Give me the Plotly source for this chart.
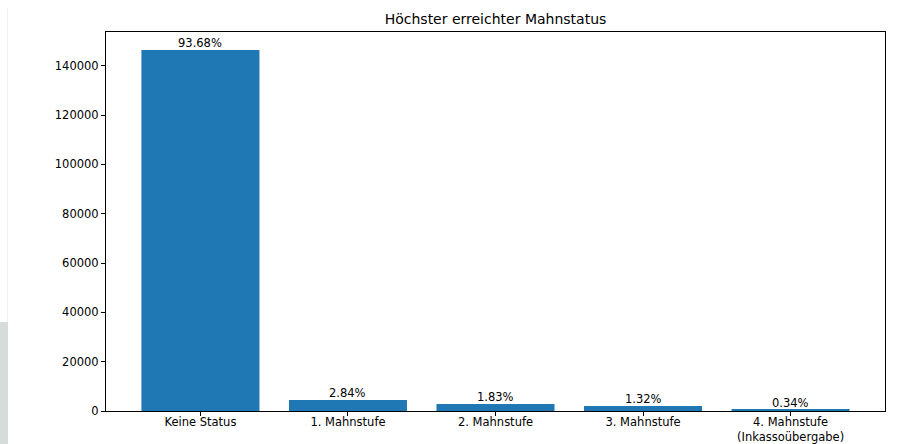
import plotly.graph_objects as go

categories = ["Keine Status", "1. Mahnstufe", "2. Mahnstufe", "3. Mahnstufe", "4. Mahnstufe<br>(Inkassoübergabe)"]
counts = [146343, 4437, 2859, 2062, 531]
pct_labels = ["93.68%", "2.84%", "1.83%", "1.32%", "0.34%"]
y_ticks = [0, 20000, 40000, 60000, 80000, 100000, 120000, 140000]

W, H = 916, 444
L, R, T, B = 106, 885, 32, 411
pw, ph = R - L, B - T

font = dict(family="DejaVu Sans", size=11.5, color="#000000")

fig = go.Figure()
fig.add_trace(go.Bar(
    x=list(range(len(categories))), y=counts, width=0.8,
    marker=dict(color="#1f77b4", line=dict(width=0)),
    showlegend=False, hoverinfo="x+y",
))

for i, (c, lab) in enumerate(zip(counts, pct_labels)):
    fig.add_annotation(x=i, y=c, text=lab, showarrow=False, xref="x", yref="y",
                       xanchor="center", yanchor="bottom", yshift=-2, font=font)

fig.update_layout(
    template="none",
    width=W, height=H,
    margin=dict(l=L, r=W - R, t=T, b=H - B, pad=0, autoexpand=False),
    paper_bgcolor="white", plot_bgcolor="white",
    font=font,
    title=dict(text="Höchster erreichter Mahnstatus", x=(L + R) / 2 / W, xanchor="center",
               y=1 - 19 / H, yanchor="middle", automargin=False,
               font=dict(family="DejaVu Sans", size=14, color="#000000")),
    xaxis=dict(range=[-0.64, 4.64], tickmode="array", tickvals=list(range(len(categories))),
               ticktext=categories, showgrid=False, zeroline=False, automargin=False,
               showline=True, linecolor="#000000", linewidth=1, mirror=True,
               ticks="outside", ticklen=4, tickwidth=1, tickcolor="#000000", tickfont=font,
               ticklabelstandoff=-4),
    yaxis=dict(range=[0, 153660], tickmode="array", tickvals=y_ticks,
               ticktext=[str(v) for v in y_ticks],
               showgrid=False, zeroline=False, automargin=False,
               showline=True, linecolor="#000000", linewidth=1, mirror=True,
               ticks="outside", ticklen=4, tickwidth=1, tickcolor="#000000", tickfont=font),
    showlegend=False,
)

# decorative left strip seen in the reference image
fig.add_shape(type="rect", xref="paper", yref="paper",
              x0=(0 - L) / pw, x1=(8 - L) / pw,
              y0=(B - 444) / ph, y1=(B - 322) / ph,
              fillcolor="#d5dcda", line=dict(width=0), layer="below")
fig.add_shape(type="line", xref="paper", yref="paper",
              x0=(7.5 - L) / pw, x1=(7.5 - L) / pw,
              y0=(B - 322) / ph, y1=(B - 8) / ph,
              line=dict(color="#f0f0f0", width=1), layer="below")

fig.write_html("out.html", config={"displayModeBar": False},
               post_script="document.body.style.margin='0';document.body.style.overflow='hidden';")
